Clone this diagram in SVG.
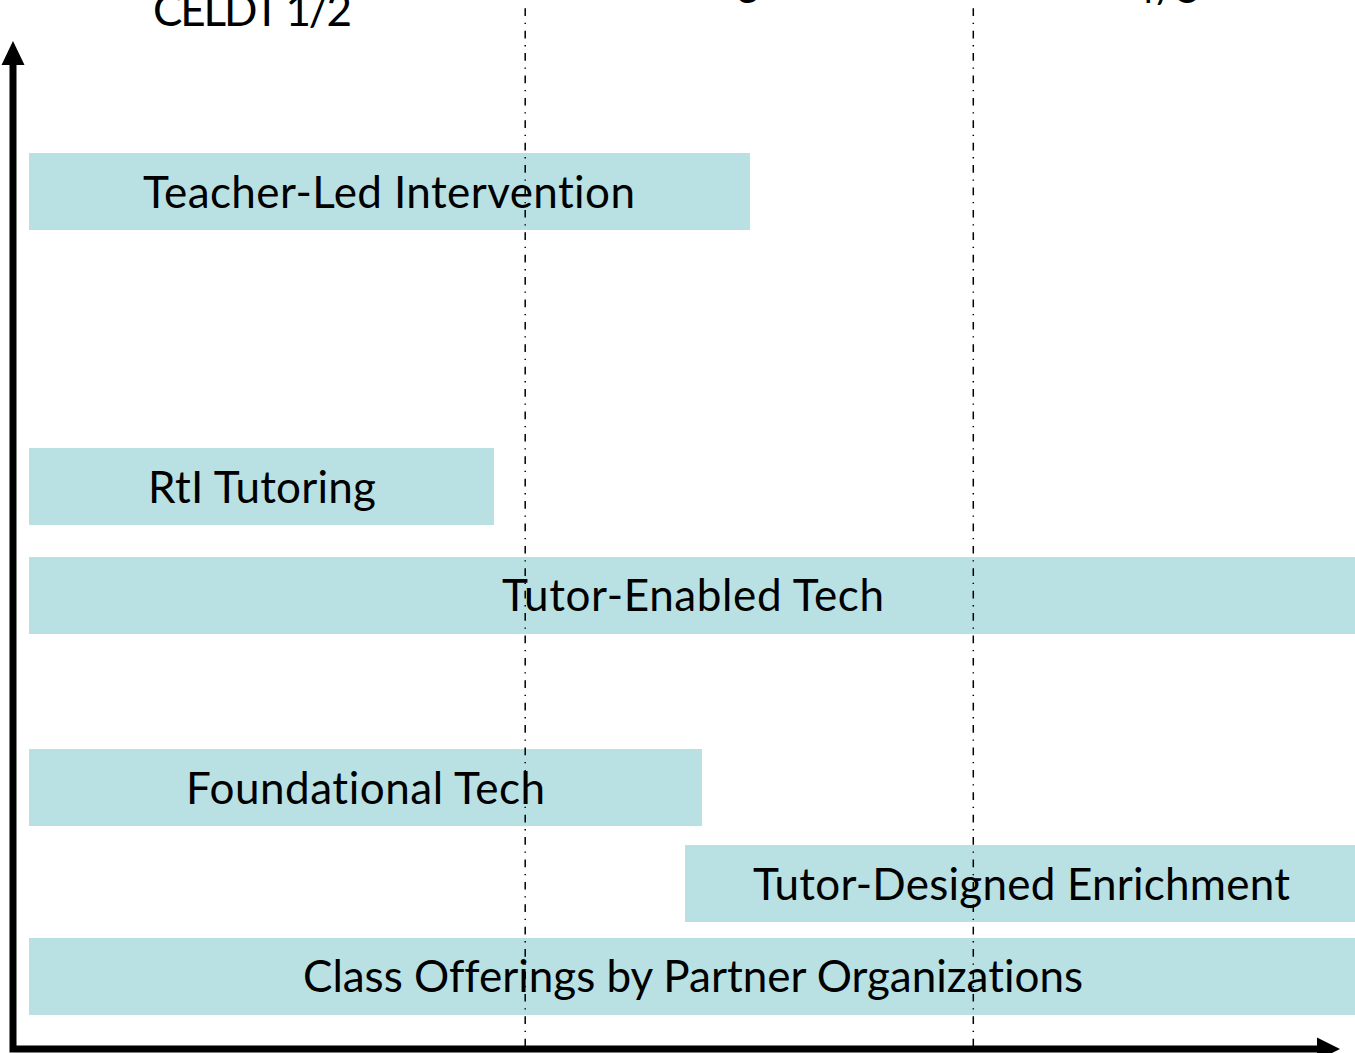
<svg xmlns="http://www.w3.org/2000/svg" width="1355" height="1053" viewBox="0 0 1355 1053">
  <style>
    .bar { fill: #b9e0e3; }
    .label { font-family: "Lato", "Open Sans", "Liberation Sans", sans-serif; font-size: 44px; fill: #000; font-variant-ligatures: none; font-feature-settings: "liga" 0, "dlig" 0; }
    .mid { text-anchor: middle; }
    .divider { stroke: #000; stroke-width: 1.5; stroke-dasharray: 7.7 6.7 1.3 6.7; fill: none; }
    .axis { stroke: #000; stroke-width: 7; fill: none; }
    .head { fill: #000; }
  </style>

  <!-- column headings along the top edge -->
  <g id="headings">
    <text class="label" x="153" y="26" textLength="199">CELDT 1/2</text>
    <text class="label mid" x="748" y="2.5">3</text>
    <text class="label mid" x="1166" y="2.5">4/5</text>
  </g>

  <!-- program bars -->
  <g id="teacher-led-intervention">
    <rect class="bar" x="29" y="153" width="721" height="77"/>
    <text class="label mid" x="389" y="208" textLength="492">Teacher-Led Intervention</text>
  </g>
  <g id="rti-tutoring">
    <rect class="bar" x="29" y="448" width="465" height="77"/>
    <text class="label mid" x="262" y="503" textLength="228">RtI Tutoring</text>
  </g>
  <g id="tutor-enabled-tech">
    <rect class="bar" x="29" y="557" width="1326" height="77"/>
    <text class="label mid" x="693" y="611" textLength="382">Tutor-Enabled Tech</text>
  </g>
  <g id="foundational-tech">
    <rect class="bar" x="29" y="749" width="673" height="77"/>
    <text class="label mid" x="365.5" y="804" textLength="359">Foundational Tech</text>
  </g>
  <g id="tutor-designed-enrichment">
    <rect class="bar" x="685" y="845" width="670" height="77"/>
    <text class="label mid" x="1021.5" y="900" textLength="537">Tutor-Designed Enrichment</text>
  </g>
  <g id="class-offerings">
    <rect class="bar" x="29" y="938" width="1326" height="77"/>
    <text class="label mid" x="693" y="992" textLength="780">Class Offerings by Partner Organizations</text>
  </g>

  <!-- dash-dot column dividers -->
  <g id="dividers">
    <line class="divider" x1="525.2" y1="8.3" x2="525.2" y2="1053"/>
    <line class="divider" x1="973.3" y1="8.3" x2="973.3" y2="1053"/>
  </g>

  <!-- axes with arrowheads -->
  <g id="connectors">
    <path class="axis" d="M13 64 V1049 H1320"/>
    <polygon class="head" points="13,41 1.5,65 24.5,65"/>
    <polygon class="head" points="1340,1049 1317,1037.5 1317,1060.5"/>
  </g>
</svg>
